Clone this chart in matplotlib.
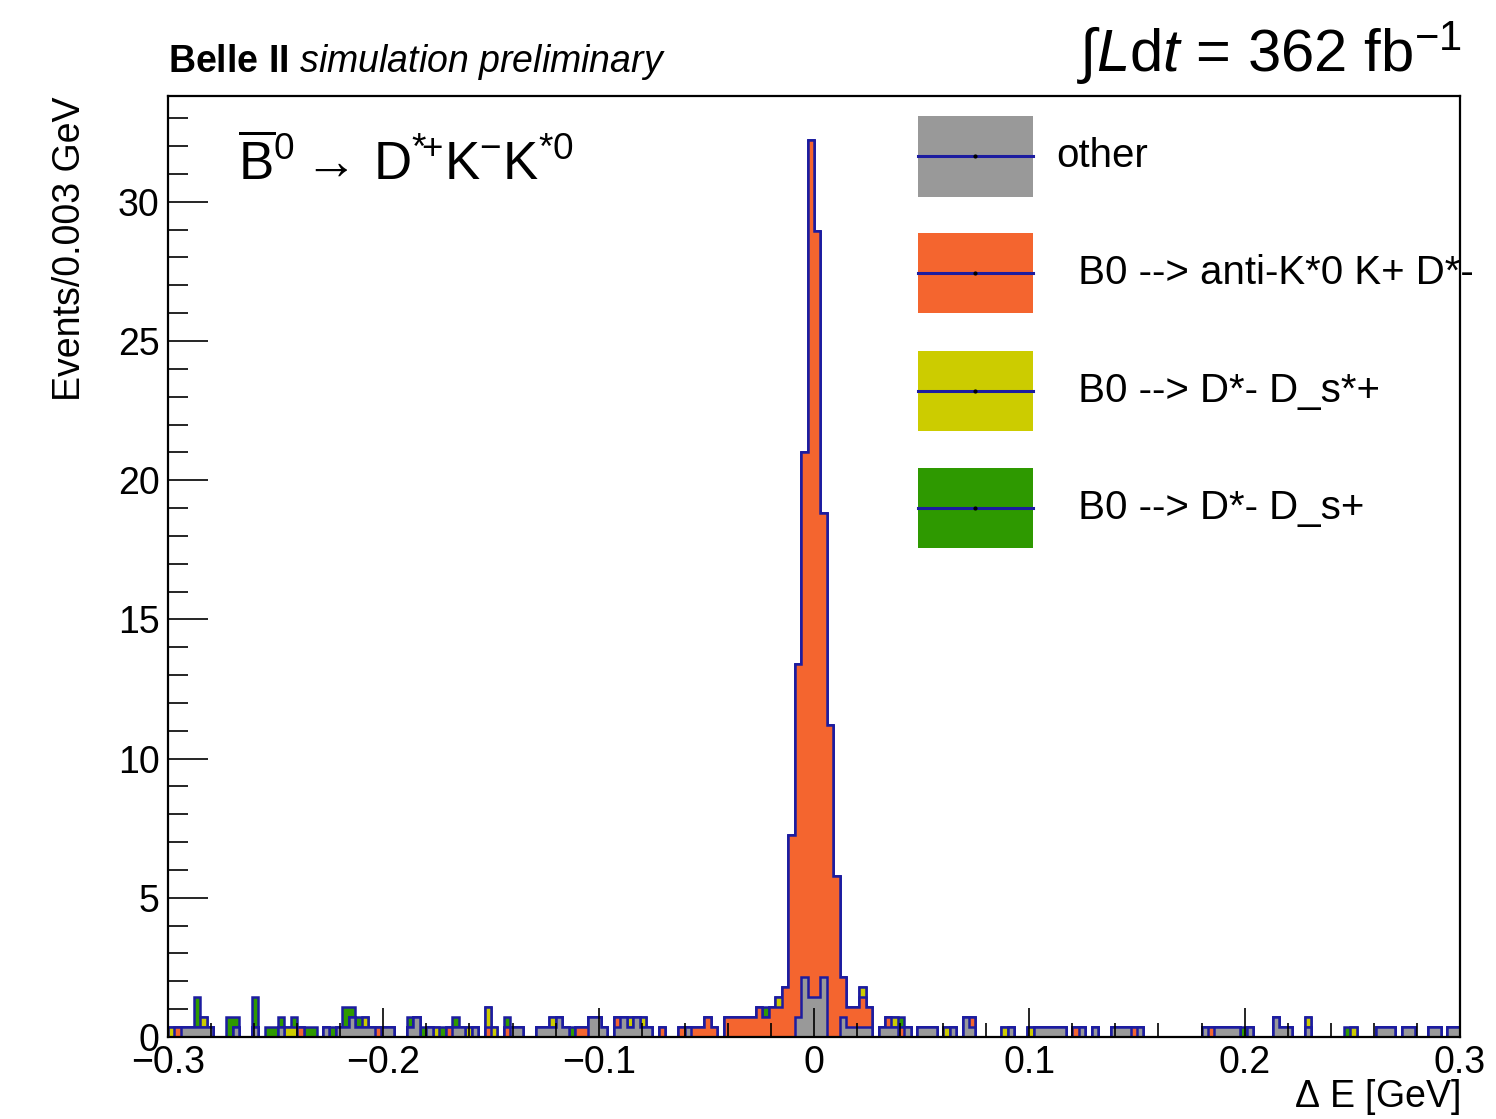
import numpy as np
import matplotlib.pyplot as plt
from matplotlib.patches import Rectangle
from matplotlib.ticker import MultipleLocator

plt.rcParams['font.family'] = ['Liberation Sans', 'DejaVu Sans']
plt.rcParams['mathtext.fontset'] = 'custom'
plt.rcParams['mathtext.rm'] = 'Liberation Sans'
plt.rcParams['mathtext.it'] = 'Liberation Sans:italic'
plt.rcParams['mathtext.bf'] = 'Liberation Sans:bold'

# MC events are weighted to 362 fb^-1
weight = 0.362
edges = np.linspace(-0.3, 0.3, 201)  # 0.003 GeV bins

# per-bin MC counts for each component (stacked bottom to top)
other = [
    0, 0, 1, 1, 1, 1, 1, 0, 0, 0, 1, 0, 0, 1, 0, 0, 0, 1, 0, 0,
    0, 0, 0, 0, 1, 0, 1, 1, 2, 1, 1, 1, 0, 1, 1, 0, 0, 1, 2, 0,
    1, 0, 0, 0, 1, 1, 0, 1, 0, 0, 0, 0, 0, 1, 1, 0, 0, 1, 1, 1,
    2, 1, 0, 0, 0, 2, 2, 1, 0, 1, 2, 1, 2, 1, 1, 0, 0, 0, 0, 0,
    1, 0, 0, 0, 0, 0, 0, 0, 0, 0, 0, 0, 0, 0, 0, 0, 0, 2, 6, 4,
    4, 6, 0, 0, 2, 1, 1, 1, 1, 0, 1, 1, 1, 0, 1, 0, 1, 1, 1, 0,
    0, 1, 0, 2, 1, 0, 0, 0, 0, 0, 1, 0, 0, 0, 1, 1, 1, 1, 1, 0,
    0, 1, 0, 1, 0, 0, 1, 1, 1, 0, 1, 0, 0, 0, 0, 0, 0, 0, 0, 0,
    1, 0, 1, 1, 1, 1, 0, 1, 0, 0, 0, 2, 1, 1, 0, 0, 1, 0, 0, 0,
    0, 0, 0, 0, 0, 0, 0, 1, 1, 1, 0, 1, 1, 0, 0, 1, 1, 0, 1, 1,
]
kstar_k_dstar = [
    0, 1, 0, 0, 0, 0, 0, 0, 0, 0, 0, 0, 0, 0, 0, 0, 0, 0, 0, 0,
    1, 0, 0, 0, 0, 0, 0, 0, 0, 0, 0, 0, 1, 0, 0, 0, 0, 0, 0, 0,
    0, 0, 0, 1, 0, 0, 0, 0, 0, 1, 0, 0, 1, 0, 0, 0, 0, 0, 0, 0,
    0, 0, 0, 1, 1, 0, 0, 0, 0, 1, 0, 0, 0, 0, 0, 0, 1, 0, 0, 1,
    0, 1, 1, 2, 1, 0, 2, 2, 2, 2, 2, 3, 2, 3, 3, 5, 20, 35, 52, 85,
    76, 46, 31, 16, 4, 2, 2, 3, 2, 0, 0, 1, 0, 1, 0, 0, 0, 0, 0, 0,
    0, 0, 0, 0, 1, 0, 0, 0, 0, 0, 0, 0, 0, 0, 0, 0, 0, 0, 0, 0,
    1, 0, 0, 0, 0, 0, 0, 0, 0, 1, 0, 0, 0, 0, 0, 0, 0, 0, 0, 0,
    0, 1, 0, 0, 0, 0, 0, 0, 0, 0, 0, 0, 0, 0, 0, 0, 0, 0, 0, 0,
    0, 0, 0, 0, 0, 0, 0, 0, 0, 0, 0, 0, 0, 0, 0, 0, 0, 0, 0, 0,
]
dstar_dsstar = [
    1, 0, 0, 0, 0, 1, 0, 0, 0, 0, 0, 0, 0, 0, 0, 0, 0, 0, 1, 1,
    0, 0, 0, 0, 0, 0, 0, 0, 0, 0, 1, 0, 0, 0, 0, 0, 0, 0, 0, 0,
    0, 1, 0, 0, 0, 0, 1, 0, 0, 2, 1, 0, 0, 0, 0, 0, 0, 0, 0, 1,
    0, 0, 0, 0, 0, 0, 0, 0, 0, 0, 0, 1, 0, 1, 0, 0, 0, 0, 0, 0,
    0, 0, 0, 0, 0, 0, 0, 0, 0, 0, 0, 0, 0, 0, 1, 0, 0, 0, 0, 0,
    0, 0, 0, 0, 0, 0, 0, 1, 0, 0, 0, 0, 1, 0, 0, 0, 0, 0, 0, 0,
    1, 0, 0, 0, 0, 0, 0, 0, 0, 1, 0, 0, 0, 1, 0, 0, 0, 0, 0, 0,
    0, 0, 0, 0, 0, 0, 0, 0, 0, 0, 0, 0, 0, 0, 0, 0, 0, 0, 0, 0,
    0, 0, 0, 0, 0, 0, 0, 0, 0, 0, 0, 0, 0, 0, 0, 0, 1, 0, 0, 0,
    0, 0, 0, 1, 0, 0, 0, 0, 0, 0, 0, 0, 0, 0, 0, 0, 0, 0, 0, 0,
]
dstar_ds = [
    0, 0, 0, 0, 3, 0, 0, 0, 0, 2, 1, 0, 0, 3, 0, 1, 1, 1, 0, 1,
    0, 1, 1, 0, 0, 1, 0, 2, 1, 1, 0, 0, 0, 0, 0, 0, 0, 1, 0, 1,
    0, 0, 1, 0, 1, 0, 0, 0, 0, 0, 0, 0, 1, 0, 0, 0, 0, 0, 0, 0,
    0, 0, 1, 0, 0, 0, 0, 0, 0, 0, 0, 0, 0, 0, 0, 0, 0, 0, 0, 0,
    0, 0, 0, 0, 0, 0, 0, 0, 0, 0, 0, 0, 1, 0, 0, 0, 0, 0, 0, 0,
    0, 0, 0, 0, 0, 0, 0, 0, 0, 0, 0, 0, 0, 1, 0, 0, 0, 0, 0, 0,
    0, 0, 0, 0, 0, 0, 0, 0, 0, 0, 0, 0, 0, 0, 0, 0, 0, 0, 0, 0,
    0, 0, 0, 0, 0, 0, 0, 0, 0, 0, 0, 0, 0, 0, 0, 0, 0, 0, 0, 0,
    0, 0, 0, 0, 0, 0, 1, 0, 0, 0, 0, 0, 0, 0, 0, 0, 0, 0, 0, 0,
    0, 0, 1, 0, 0, 0, 0, 0, 0, 0, 0, 0, 0, 0, 0, 0, 0, 0, 0, 0,
]

labels = ["other", "  B0 --> anti-K*0 K+ D*-", "  B0 --> D*- D_s*+", "  B0 --> D*- D_s+"]
colors = ["#999999", "#f4652f", "#cccc00", "#2e9900"]
navy = "#1c1ca0"

components = [other, kstar_k_dstar, dstar_dsstar, dstar_ds]
for c in components:
    assert len(c) == 200
stack = np.cumsum(np.array(components, dtype=float), axis=0) * weight

fig = plt.figure(figsize=(14.96, 11.19), dpi=100)
ax = fig.add_axes([0.1123, 0.0733, 0.8636, 0.8409])

# draw like THStack: each cumulative sum filled from zero, topmost first
for level, color in reversed(list(zip(stack, colors))):
    ax.stairs(level, edges, baseline=0, fill=True, facecolor=color,
              edgecolor=navy, linewidth=1.8)

ax.set_xlim(-0.3, 0.3)
ax.set_ylim(0, 33.8)
ax.xaxis.set_major_locator(MultipleLocator(0.1))
ax.xaxis.set_minor_locator(MultipleLocator(0.02))
ax.yaxis.set_major_locator(MultipleLocator(5))
ax.yaxis.set_minor_locator(MultipleLocator(1))
ax.tick_params(which='both', direction='in', top=False, right=False,
               width=1.2, labelsize=27)
ax.tick_params(axis='y', which='major', length=28.8, pad=6)
ax.tick_params(axis='y', which='minor', length=14.4)
ax.tick_params(axis='x', which='major', length=20.6, pad=6)
ax.tick_params(axis='x', which='minor', length=10)
ax.xaxis.set_major_formatter(lambda v, p: "0" if abs(v) < 1e-9 else f"{v:g}".replace("-", "\u2212"))
for s in ax.spines.values():
    s.set_linewidth(1.6)

ax.set_ylabel("Events/0.003 GeV", fontsize=27, loc='top')
ax.yaxis.set_label_coords(-0.062, 1.0)
ax.set_xlabel(r"$\Delta$ E [GeV]", fontsize=27, loc='right')
ax.xaxis.set_label_coords(1.0, -0.043)

# legend boxes
legend_y = [0.9362, 0.8119, 0.6865, 0.5622]
for yc, lab, col in zip(legend_y, labels, colors):
    ax.add_patch(Rectangle((0.5805, yc - 0.043), 0.089, 0.086, transform=ax.transAxes,
                           facecolor=col, edgecolor='none', clip_on=False, zorder=3))
    ax.plot([0.5805, 0.6695], [yc, yc], transform=ax.transAxes, color=navy, lw=2.2,
            zorder=4, clip_on=False)
    ax.plot([0.625], [yc], transform=ax.transAxes, marker='o', ms=2, color='k', zorder=5)
    ax.text(0.6873, yc, lab, transform=ax.transAxes, fontsize=29, va='center',
            ha='left', zorder=2)

ax.text(0.054, 0.911,
        r"$\overline{\mathrm{B}}^{0}\rightarrow\,\mathrm{D}^{\mathrm{*}\!\mathrm{+}}\mathrm{K}^{-}\mathrm{K}^{\mathrm{*}0}$",
        transform=ax.transAxes, fontsize=38, va='baseline', ha='left')

fig.text(0.1123, 0.9357, r"$\mathbf{Belle\ II}$ $\mathit{simulation\ preliminary}$",
         fontsize=27, va='baseline', ha='left')
fig.text(0.977, 0.9357, r"$\int L\mathrm{d}t$ = 362 fb$^{-1}$",
         fontsize=43, va='baseline', ha='right')

fig.savefig("out.png", dpi=100)
